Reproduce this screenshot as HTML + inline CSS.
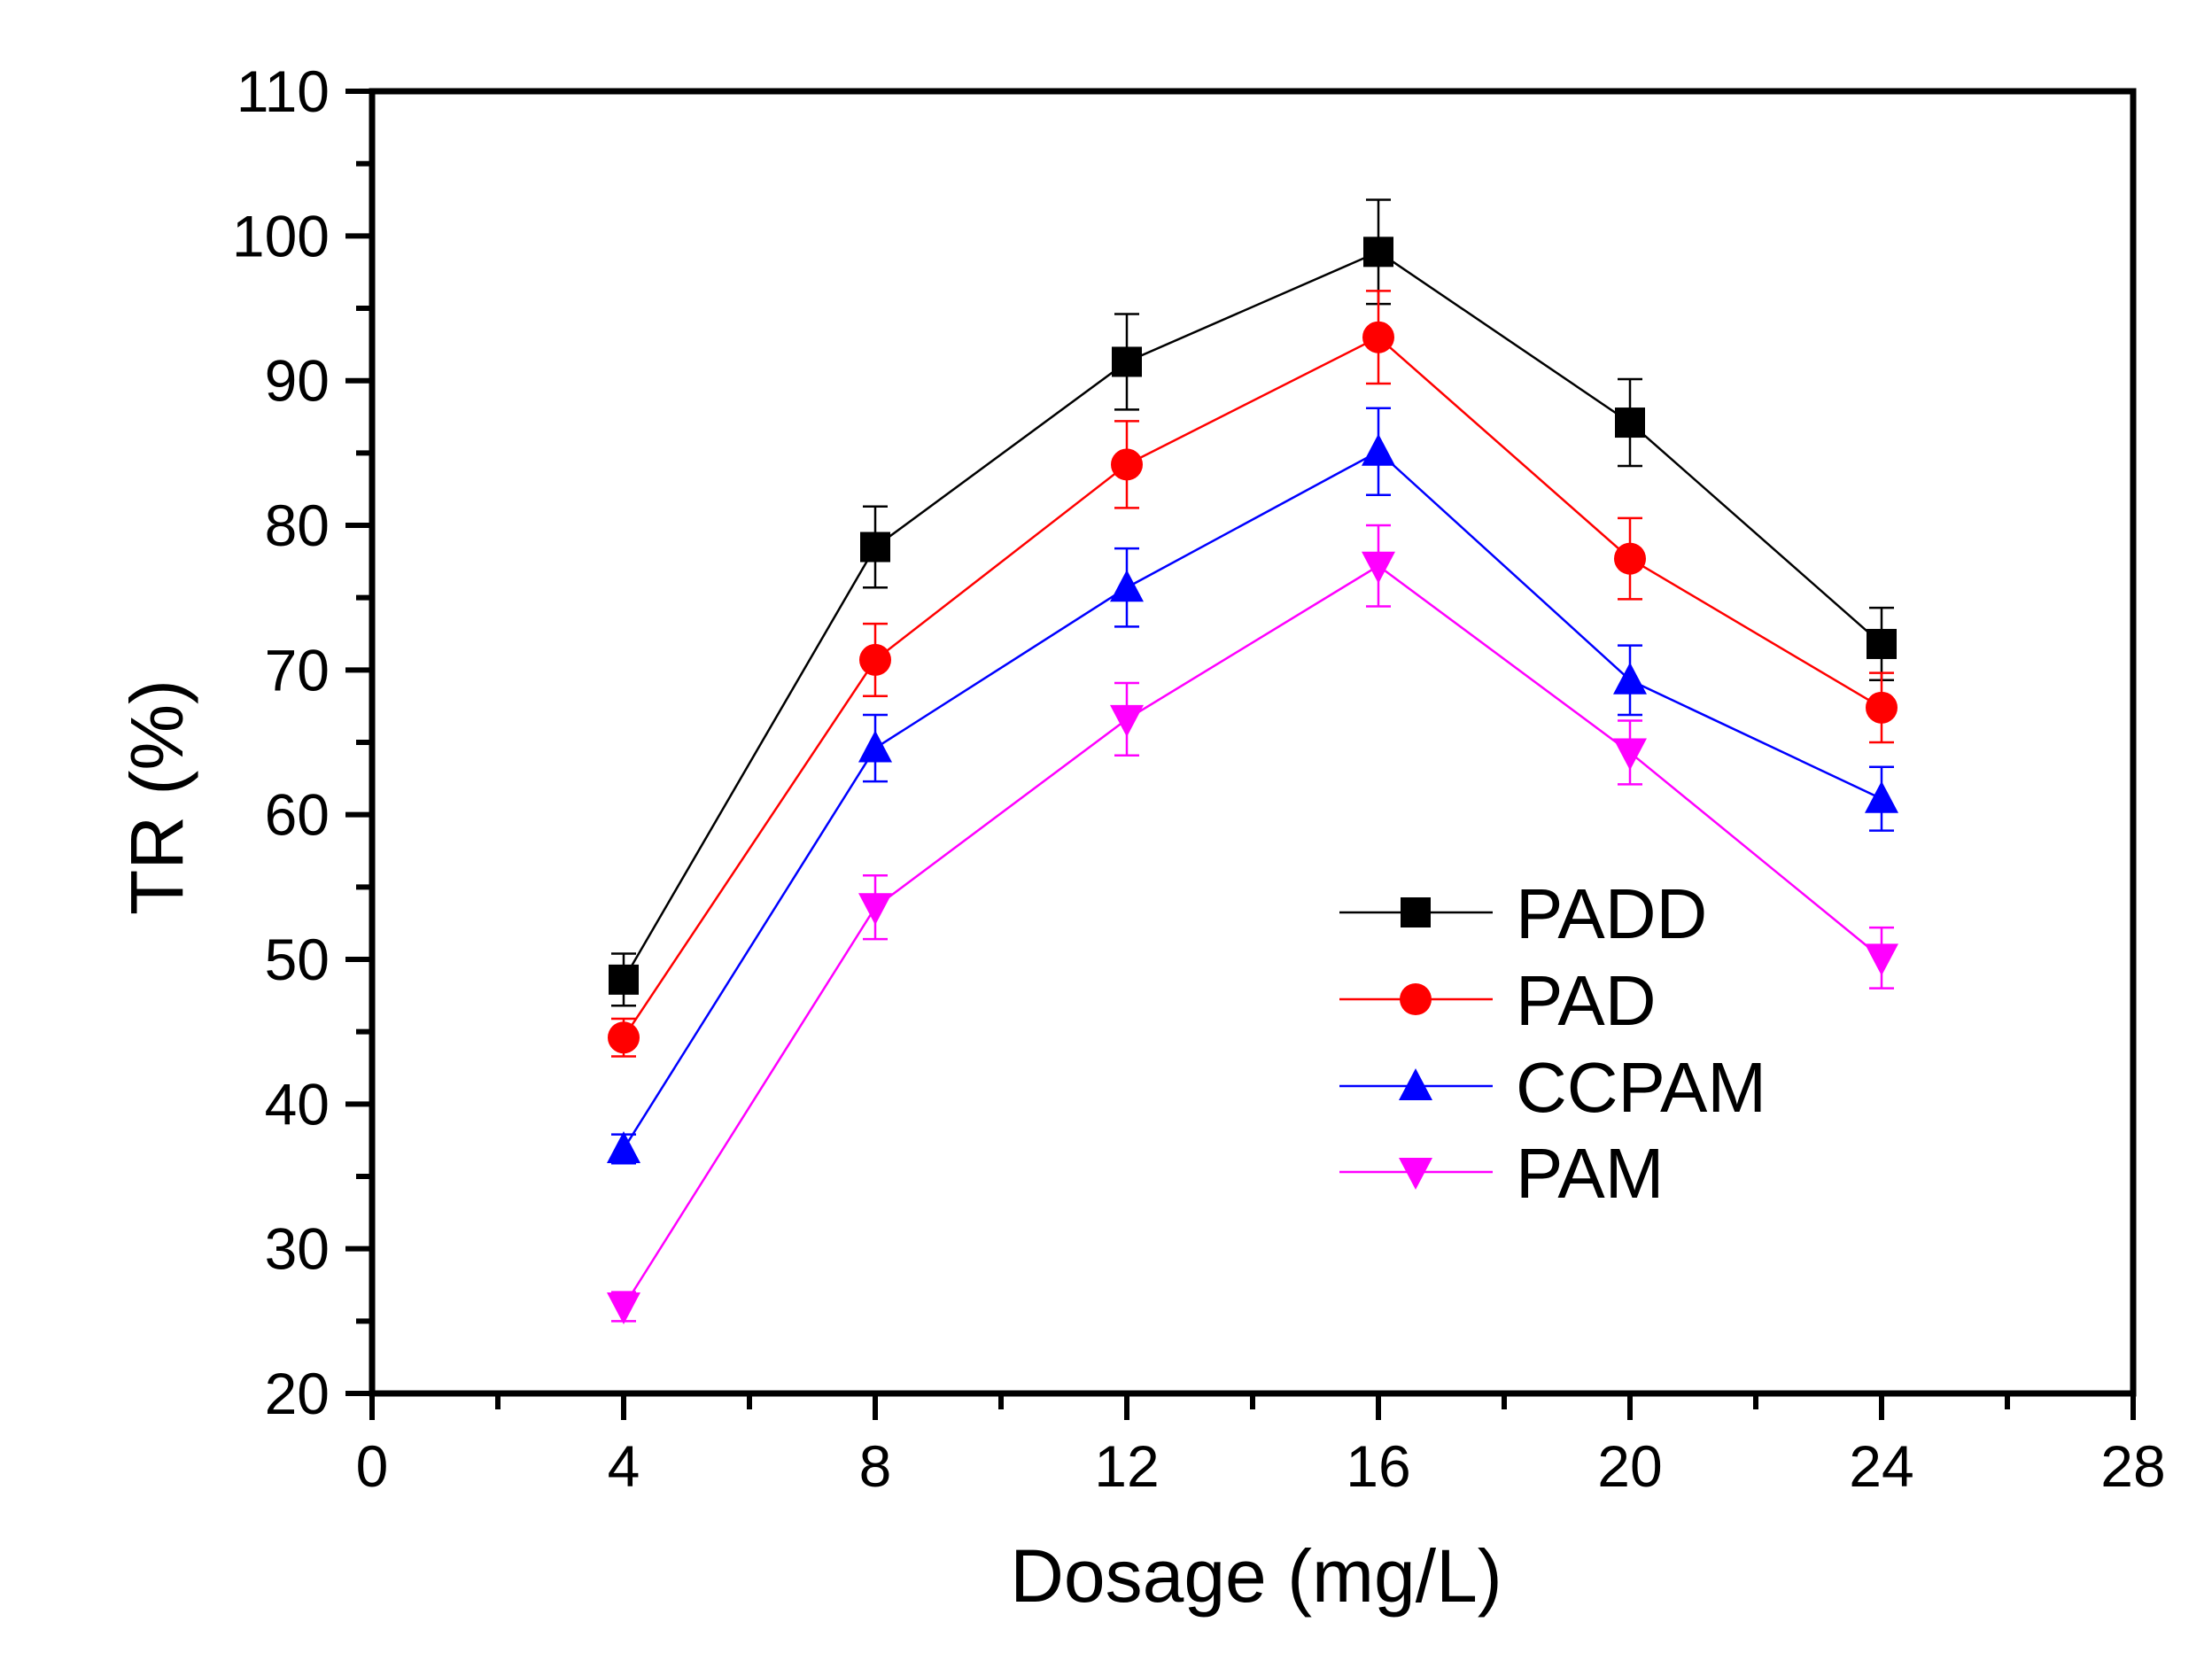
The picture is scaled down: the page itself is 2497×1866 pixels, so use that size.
<!DOCTYPE html>
<html><head><meta charset="utf-8"><style>html,body{margin:0;padding:0;background:#fff}svg{display:block}</style></head>
<body>
<svg width="2497" height="1866" xmlns="http://www.w3.org/2000/svg" font-family="'Liberation Sans', Arial, sans-serif">
<rect width="2497" height="1866" fill="#fff"/>
<g id="ticks" stroke="#000" stroke-width="6"></g>
<rect x="420" y="103" width="1988" height="1470" fill="none" stroke="#000" stroke-width="7"/>
<g id="labels" font-size="66" fill="#000"></g>
<g id="series"></g>
<text x="0" y="0" font-size="84" transform="translate(206,900) rotate(-90)" text-anchor="middle">TR (%)</text>
<text x="1418" y="1808" font-size="84" text-anchor="middle">Dosage (mg/L)</text>
<g id="legend" font-size="80"></g>
<script>
var NS="http://www.w3.org/2000/svg";
function el(p,t,a,txt){var e=document.createElementNS(NS,t);for(var k in a)e.setAttribute(k,a[k]);if(txt!=null)e.textContent=txt;document.getElementById(p).appendChild(e);return e;}
function X(v){return 420+v*71.0;}function Y(v){return 1573-(v-20)*16.333;}
for(var v=0;v<=28;v+=2){var L=v%4==0?30:18;el('ticks','line',{x1:X(v),x2:X(v),y1:1573,y2:1573+L});
 if(v%4==0)el('labels','text',{x:X(v),y:1678,'text-anchor':'middle'},v);}
for(var v=20;v<=110;v+=5){var L=v%10==0?30:18;el('ticks','line',{x1:420-L,x2:420,y1:Y(v),y2:Y(v)});
 if(v%10==0)el('labels','text',{x:372,y:Y(v)+23,'text-anchor':'end'},v);}
var xs=[4,8,12,16,20,24];
var S=[
{c:'#000',m:'sq',n:'PADD',d:[48.6,78.5,91.3,98.9,87.1,71.8],e:[1.8,2.8,3.3,3.6,3.0,2.5]},
{c:'#ff0000',m:'ci',n:'PAD',d:[44.6,70.7,84.2,93.0,77.7,67.4],e:[1.3,2.5,3.0,3.2,2.8,2.4]},
{c:'#0000ff',m:'up',n:'CCPAM',d:[36.9,64.6,75.7,85.1,69.3,61.1],e:[1.0,2.3,2.7,3.0,2.4,2.2]},
{c:'#ff00ff',m:'dn',n:'PAM',d:[26.0,53.6,66.6,77.2,64.3,50.1],e:[1.0,2.2,2.5,2.8,2.2,2.1]}];
function mk(p,m,x,y,c){var r=17;
 if(m=='sq')el(p,'rect',{x:x-r,y:y-r,width:2*r,height:2*r,fill:c});
 else if(m=='ci')el(p,'circle',{cx:x,cy:y,r:r+1,fill:c});
 else if(m=='up')el(p,'polygon',{points:(x-r-2)+','+(y+r-1)+' '+(x+r+2)+','+(y+r-1)+' '+x+','+(y-r-3),fill:c});
 else el(p,'polygon',{points:(x-r-2)+','+(y-r+1)+' '+(x+r+2)+','+(y-r+1)+' '+x+','+(y+r+3),fill:c});}
S.forEach(function(s){
 var pts=xs.map(function(x,i){return X(x)+','+Y(s.d[i]);}).join(' ');
 el('series','polyline',{points:pts,fill:'none',stroke:s.c,'stroke-width':2.5});
 xs.forEach(function(x,i){var cx=X(x),t=Y(s.d[i]+s.e[i]),b=Y(s.d[i]-s.e[i]);
  el('series','line',{x1:cx,x2:cx,y1:t,y2:b,stroke:s.c,'stroke-width':2.5});
  el('series','line',{x1:cx-14,x2:cx+14,y1:t,y2:t,stroke:s.c,'stroke-width':2.5});
  el('series','line',{x1:cx-14,x2:cx+14,y1:b,y2:b,stroke:s.c,'stroke-width':2.5});
  mk('series',s.m,cx,Y(s.d[i]),s.c);});
});
var ly=[1030,1128,1226,1323];
S.forEach(function(s,i){el('legend','line',{x1:1512,x2:1685,y1:ly[i],y2:ly[i],stroke:s.c,'stroke-width':2.5});
 mk('legend',s.m,1598,ly[i],s.c);el('legend','text',{x:1711,y:ly[i]+29,fill:'#000'},s.n);});
</script>
</svg>
</body></html>
